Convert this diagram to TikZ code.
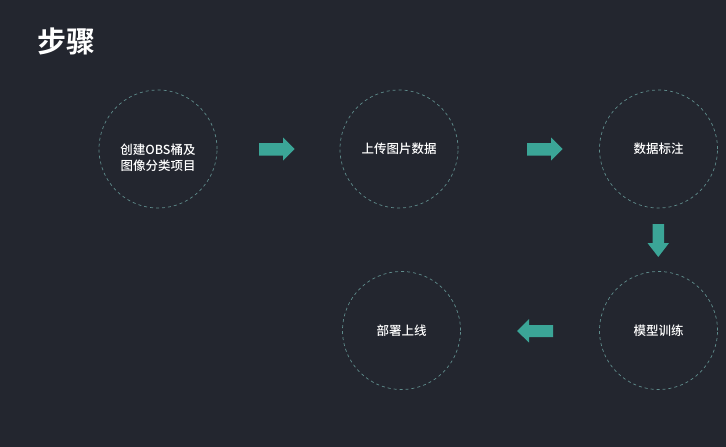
\documentclass[tikz,border=0pt]{standalone}
\usepackage{fontspec}
\newfontfamily\cjk{Noto Sans CJK SC Medium}
\newfontfamily\cjkb{Noto Sans CJK SC Bold}
\definecolor{bg}{RGB}{35,38,47}
\definecolor{ring}{RGB}{95,140,140}
\definecolor{arr}{RGB}{59,165,151}
\begin{document}
\begin{tikzpicture}[x=1pt,y=-1pt,
  steptext/.style={text=white,font=\cjk\fontsize{12.5}{16.5}\selectfont,align=center,inner sep=0pt},
  stepnode/.style={circle,draw=ring,dashed,dash pattern=on 3pt off 3pt,line width=0.7pt,minimum size=118pt,inner sep=0pt,steptext},
  arrowshape/.style={fill=arr,draw=none}]
\fill[bg] (0,0) rectangle (726,447);
\useasboundingbox (0,0) rectangle (726,447);
\node[anchor=west,text=white,font=\cjkb\fontsize{29}{32}\selectfont,inner sep=0pt] (title) at (37,41) {步骤};
\node[stepnode] (s1) at (158,149) {};
\node[steptext] (s1t) at (158,157.8) {创建OBS桶及\\图像分类项目};
\node[stepnode] (s2) at (399,149) {上传图片数据};
\node[stepnode] (s3) at (658.5,149) {数据标注};
\node[stepnode] (s4) at (658.5,330.5) {模型训练};
\node[stepnode] (s5) at (401.5,330.5) {部署上线};
% right arrow 1
\fill[arrowshape] (259,143) -- (283,143) -- (283,137.5) -- (294.5,149) -- (283,160.5) -- (283,155.5) -- (259,155.5) -- cycle;
% right arrow 2
\fill[arrowshape] (527,143) -- (551,143) -- (551,137.5) -- (562.5,149) -- (551,160.5) -- (551,155.5) -- (527,155.5) -- cycle;
% down arrow
\fill[arrowshape] (652.5,224) -- (664,224) -- (664,243) -- (669,243) -- (658.3,257) -- (647.5,243) -- (652.5,243) -- cycle;
% left arrow
\fill[arrowshape] (553,325) -- (529,325) -- (529,319) -- (517,331) -- (529,342.5) -- (529,337) -- (553,337) -- cycle;
\end{tikzpicture}
\end{document}
